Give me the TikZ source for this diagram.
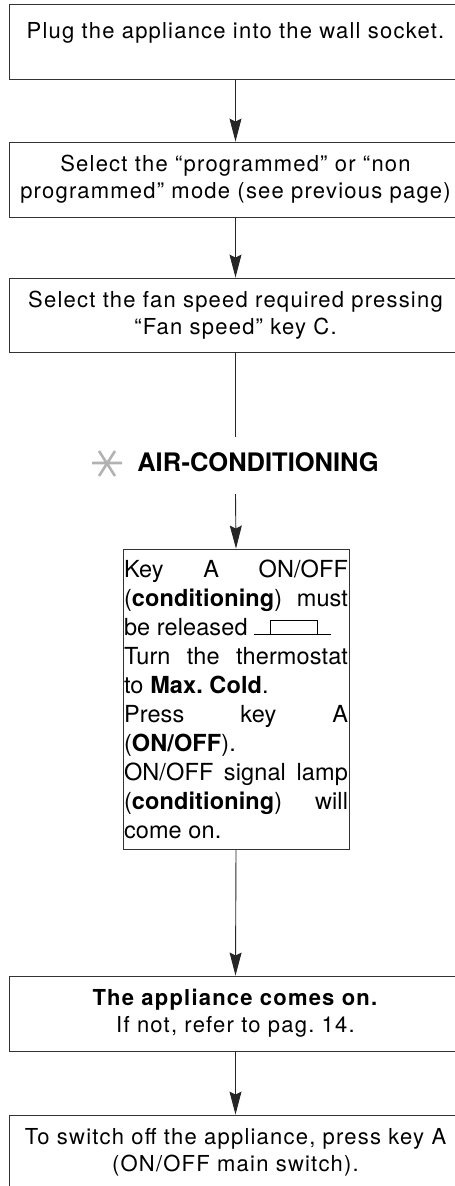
\documentclass[tikz,border=0pt]{standalone}
\usepackage{fontspec}
\setmainfont{TeX Gyre Heros}[LetterSpace=5.5]
\newfontfamily\headfont{TeX Gyre Heros}
\newfontfamily\keyfont{TeX Gyre Heros}[LetterSpace=0.5]
\usetikzlibrary{arrows.meta}
\tolerance=10000 \hbadness=10000
\frenchspacing
% small key drawn in the text of the air-conditioning box
\newcommand{\releasedkey}{\rlap{\rule{77pt}{0.7pt}}\hspace{16pt}\rule{0.7pt}{15pt}\rlap{\rule[14.3pt]{46pt}{0.7pt}}\hspace{46pt}\rule{0.7pt}{15pt}}
\tikzset{
  stepbox/.style={draw=black!80, line width=0.9pt, text width=449pt, inner xsep=2pt,
    align=center, minimum height=75pt, font=\fontsize{22}{27}\selectfont},
  keybox/.style={draw=black!80, line width=0.9pt, text width=224pt, inner xsep=1pt,
    align=justify, minimum height=300pt, font=\keyfont\fontsize{23.5}{29}\selectfont},
  flow/.style={draw=black!85, line width=0.9pt, -{Stealth[length=23pt,width=12pt,inset=3pt]}},
  noflow/.style={draw=black!85, line width=0.9pt},
}
\begin{document}
\begin{tikzpicture}[x=1pt,y=1pt]
\useasboundingbox (0,0) rectangle (455,-1186);
%\draw[very thin,gray!40,step=50] (0,0) grid (455,-1186);
\node[stepbox, anchor=north, minimum height=0pt, inner ysep=0pt, text height=34pt, text depth=41pt] (b1) at (235.5,-4)
  {Plug the appliance into the wall socket.};
\node[stepbox] (b2) at (235.5,-179.5)
  {Select the “programmed” or “non\\programmed” mode (see previous page)};
\node[stepbox, minimum height=74pt] (b3) at (235.5,-315)
  {Select the fan speed required pressing\\“Fan speed” key C.};
\node[font=\headfont\fontsize{25.5}{30}\selectfont\bfseries, inner sep=0pt] (aircon) at (258,-462.5) {AIR-CONDITIONING};
\draw[gray!60, line width=2.6pt] (92,-463) -- (122,-463) (99,-451) -- (115,-476) (115,-451) -- (99,-476);
\coordinate (upend) at (235.5,-437);
\coordinate (lowstart) at (235.5,-494);
\node[keybox] (b4) at (236,-699)
  {Key A ON/OFF\linebreak (\textbf{conditioning}) must\linebreak be released \releasedkey\\
   Turn the thermostat\linebreak to \textbf{Max. Cold}.\\
   Press key A\linebreak (\textbf{ON/OFF}).\\
   ON/OFF signal lamp\linebreak (\textbf{conditioning}) will\linebreak come on.};
\node[stepbox] (b5) at (235.5,-1013.5)
  {\textbf{The appliance comes on.}\\If not, refer to pag. 14.};
\node[stepbox] (b6) at (235.5,-1152.5)
  {To switch off the appliance, press key A\\(ON/OFF main switch).};
\foreach \a/\b in {b1/b2,b2/b3,b4/b5,b5/b6}
{
\draw[flow] (\a.south) -- (\b.north);
}
\draw[noflow] (b3.south) -- (upend);
\draw[flow] (lowstart) -- (b4.north);
\end{tikzpicture}
\end{document}
